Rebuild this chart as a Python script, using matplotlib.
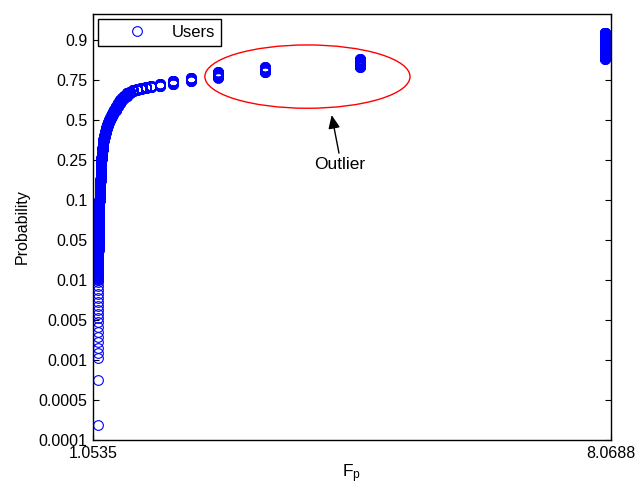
import numpy as np
import matplotlib
matplotlib.use('Agg')
import matplotlib.pyplot as plt
from matplotlib.patches import Ellipse

plt.rcParams['font.family'] = ['Liberation Sans', 'DejaVu Sans']
plt.rcParams['mathtext.fontset'] = 'custom'
plt.rcParams['mathtext.rm'] = 'Liberation Sans'
plt.rcParams['mathtext.it'] = 'Liberation Sans'

# F_p 값과 해당 값의 사용자 수
fp_levels = [1.128, 1.135, 1.148, 1.162, 1.175, 1.189, 1.202, 1.216, 1.230, 1.243,
             1.257, 1.270, 1.284, 1.297, 1.311, 1.324, 1.338, 1.365, 1.392, 1.419,
             1.446, 1.473, 1.514, 1.555, 1.595, 1.649, 1.704, 1.771, 1.839, 1.961,
             2.137, 2.381, 2.746, 3.383, 4.670, 7.987]
user_counts = [80, 120, 150, 170, 120, 110, 50, 50, 50, 36,
               34, 30, 26, 24, 26, 24, 25, 45, 40, 40,
               26, 24, 38, 18, 19, 13, 12, 12, 13, 25,
               40, 28, 42, 38, 60, 342]

# y축 눈금 (확률)
prob_ticks = [0.0001, 0.0005, 0.001, 0.005, 0.01, 0.05, 0.1, 0.25, 0.5, 0.75, 0.9]
prob_labels = ['0.0001', '0.0005', '0.001', '0.005', '0.01', '0.05', '0.1', '0.25', '0.5', '0.75', '0.9']
x_ticks = [1.0535, 8.0688]
x_labels = ['1.0535', '8.0688']

# 확률 플롯 위치 (i-0.5)/n
fp_sorted = np.repeat(fp_levels, user_counts)
n = len(fp_sorted)
prob = (np.arange(1, n + 1) - 0.5) / n

# 눈금 간격이 같은 확률 축
P = np.array(prob_ticks + [1.0])
POS = np.array(list(range(len(prob_ticks))) + [10.175])


def fwd(p):
    p = np.asarray(p, dtype=float)
    return np.where(p > 1, POS[-1] + (p - 1) * 5, np.interp(p, P, POS))


def inv(v):
    v = np.asarray(v, dtype=float)
    return np.where(v > POS[-1], 1 + (v - POS[-1]) / 5, np.interp(v, POS, P))


fig = plt.figure(figsize=(6.39, 4.94), dpi=100)
ax = fig.add_axes([0.1455, 0.1093, 0.9562 - 0.1455, 0.9717 - 0.1093])
ax.set_yscale('function', functions=(fwd, inv))

ax.plot(fp_sorted, prob, 'o', markerfacecolor='none', markeredgecolor='#0000ff',
        markersize=7, markeredgewidth=0.8, linestyle='none', label='Users')

ax.set_xlim(x_ticks[0], x_ticks[1])
ax.set_ylim(0.0001, 1.095)
ax.set_xticks(x_ticks)
ax.set_xticklabels(x_labels)
ax.set_yticks(prob_ticks)
ax.set_yticklabels(prob_labels)
ax.minorticks_off()
ax.tick_params(direction='in', length=4.5, width=0.8, labelsize=11.5, pad=4,
               top=True, right=True)
for s in ax.spines.values():
    s.set_linewidth(1.0)

ax.set_xlabel('F$_\\mathrm{p}$', fontsize=12.5, labelpad=1)
ax.set_ylabel('Probability', fontsize=11.5, labelpad=6)

leg = ax.legend(loc='upper left', fancybox=False, edgecolor='black', framealpha=1,
                fontsize=12, handlelength=4.0, handletextpad=0.1,
                borderaxespad=0.3, borderpad=0.35, numpoints=1)
leg.get_frame().set_linewidth(1.0)

# 이상치 표시
ax.add_patch(Ellipse((0.414, 0.853), 0.396, 0.1486, transform=ax.transAxes,
                     fill=False, edgecolor='red', linewidth=1.0))
ax.annotate('', xy=(0.519, 0.767), xycoords='figure fraction',
            xytext=(0.5305, 0.690), textcoords='figure fraction',
            arrowprops=dict(arrowstyle='-|>,head_length=0.8,head_width=0.35',
                            mutation_scale=10, color='black', lw=1,
                            shrinkA=0, shrinkB=0))
fig.text(0.532, 0.666, 'Outlier', ha='center', va='center', fontsize=12.5)

fig.savefig('out.png', dpi=100)
